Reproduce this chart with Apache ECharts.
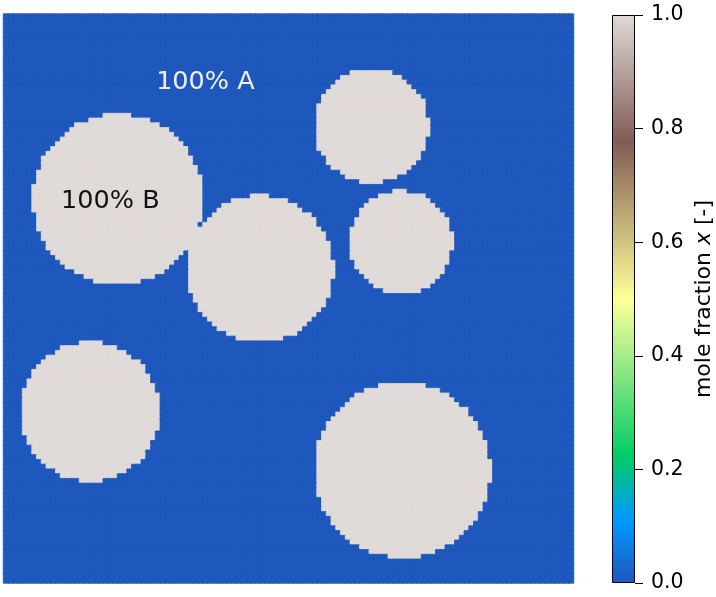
<!DOCTYPE html>
<html>
<head>
<meta charset="utf-8">
<script src="https://cdn.jsdelivr.net/npm/echarts@6/dist/echarts.min.js"></script>
<style>
  html, body { margin: 0; padding: 0; background: #ffffff; }
  #chart { width: 716px; height: 597px; }
</style>
</head>
<body>
<div id="chart"></div>
<script>
// Simulation domain: square lattice of GRID_N x GRID_N cells
const GRID_N = 120;

// Initial B-rich droplets (cell units: centre x, centre y from top, radius)
const circleX = [24.2, 54.1, 77.6, 83.8, 18.3, 84.1];
const circleY = [39.2, 53.9, 23.7, 48.3, 84.0, 96.3];
const circleR = [17.95, 15.55, 12.1, 10.9, 14.7, 18.55];

// Mole fraction inside droplets and in the surrounding matrix
const xInside = 1.0;
const xMatrix = 0.0;

// Colour bar ticks
const cbarTicks = [0.0, 0.2, 0.4, 0.6, 0.8, 1.0];

// Region annotations: [cell x, cell y, text]
const annotations = [
  [42, 14, '100% A'],
  [22, 39, '100% B']
];
const annotationColors = ['#f2eeec', '#111111'];

// Terrain-like colour ramp anchors
const rampPos = [0.0, 0.111, 0.222, 0.5, 0.778, 1.0];
const rampCol = ['#1f58bd', '#0099ff', '#00cc66', '#ffff99', '#805c54', '#e0dad8'];

function hexToRgb(h) {
  return [parseInt(h.slice(1, 3), 16), parseInt(h.slice(3, 5), 16), parseInt(h.slice(5, 7), 16)];
}
function rampAt(t) {
  for (let k = 0; k < rampPos.length - 1; k++) {
    if (t <= rampPos[k + 1] + 1e-9) {
      const a = hexToRgb(rampCol[k]), b = hexToRgb(rampCol[k + 1]);
      const f = (t - rampPos[k]) / (rampPos[k + 1] - rampPos[k]);
      const c = a.map((v, i) => Math.round(v + (b[i] - v) * f));
      return 'rgb(' + c.join(',') + ')';
    }
  }
  return rampCol[rampCol.length - 1];
}
// evenly spaced stops for the visual map / gradient
const rampSteps = 36;
const rampColors = [];
const gradStops = [];
for (let k = 0; k <= rampSteps; k++) {
  const t = k / rampSteps;
  rampColors.push(rampAt(t));
  gradStops.push({ offset: t, color: rampAt(t) });
}

// Rasterise the droplets onto the lattice
const cells = [];
for (let j = 0; j < GRID_N; j++) {
  for (let i = 0; i < GRID_N; i++) {
    let v = xMatrix;
    for (let c = 0; c < circleX.length; c++) {
      const dx = i + 0.5 - circleX[c], dy = j + 0.5 - circleY[c];
      if (dx * dx + dy * dy <= circleR[c] * circleR[c]) { v = xInside; break; }
    }
    // matching outline closes the hairline seams between neighbouring cells
    cells.push({ value: [i, j, v], itemStyle: { borderColor: rampAt(v), borderWidth: 0.8 } });
  }
}
const idx = Array.from({ length: GRID_N }, (_, k) => k);

const chart = echarts.init(document.getElementById('chart'), null, { renderer: 'canvas' });
chart.setOption({
  animation: false,
  backgroundColor: '#ffffff',
  textStyle: { fontFamily: 'DejaVu Sans' },
  grid: [
    { left: 3.5, top: 14, width: 570, height: 569 },
    { left: 612, top: 15, width: 28, height: 568 }
  ],
  xAxis: [
    { type: 'category', gridIndex: 0, data: idx, show: false },
    { type: 'category', gridIndex: 1, data: ['x'], show: false }
  ],
  yAxis: [
    { type: 'category', gridIndex: 0, data: idx, inverse: true, show: false },
    {
      type: 'value', gridIndex: 1, position: 'right',
      min: cbarTicks[0], max: cbarTicks[cbarTicks.length - 1], interval: 0.2,
      splitLine: { show: false },
      axisLine: { show: false },
      axisTick: { show: true, length: 8, lineStyle: { color: '#000', width: 1 } },
      axisLabel: {
        margin: 16, color: '#000', fontSize: 20.5, fontFamily: 'DejaVu Sans',
        formatter: v => v.toFixed(1)
      },
      name: 'mole fraction {i|x} [-]',
      nameLocation: 'middle',
      nameRotate: 90,
      nameGap: 58,
      nameTextStyle: {
        color: '#000', fontSize: 22, fontFamily: 'DejaVu Sans',
        rich: { i: { fontStyle: 'italic', fontSize: 22, fontFamily: 'DejaVu Sans', color: '#000' } }
      }
    }
  ],
  visualMap: {
    type: 'continuous', show: false, seriesIndex: 0,
    min: 0, max: 1, inRange: { color: rampColors }
  },
  series: [
    {
      type: 'heatmap', xAxisIndex: 0, yAxisIndex: 0,
      data: cells, progressive: 0,
      emphasis: { disabled: true }
    },
    {
      type: 'scatter', xAxisIndex: 0, yAxisIndex: 0,
      symbolSize: 0, silent: true, z: 5,
      itemStyle: { opacity: 1 },
      data: annotations.map((a, k) => ({
        value: [a[0], a[1]], name: a[2],
        label: { color: annotationColors[k], offset: k === 1 ? [-2, 0] : [0, 1] }
      })),
      label: {
        show: true, position: 'inside',
        formatter: p => p.name,
        fontSize: 25.5, fontFamily: 'DejaVu Sans'
      },
      labelLayout: { hideOverlap: false }
    },
    {
      type: 'bar', xAxisIndex: 1, yAxisIndex: 1,
      data: [1], barWidth: '100%', silent: true,
      itemStyle: {
        color: new echarts.graphic.LinearGradient(0, 1, 0, 0, gradStops),
        borderColor: '#000', borderWidth: 1
      }
    }
  ]
});
</script>
</body>
</html>
